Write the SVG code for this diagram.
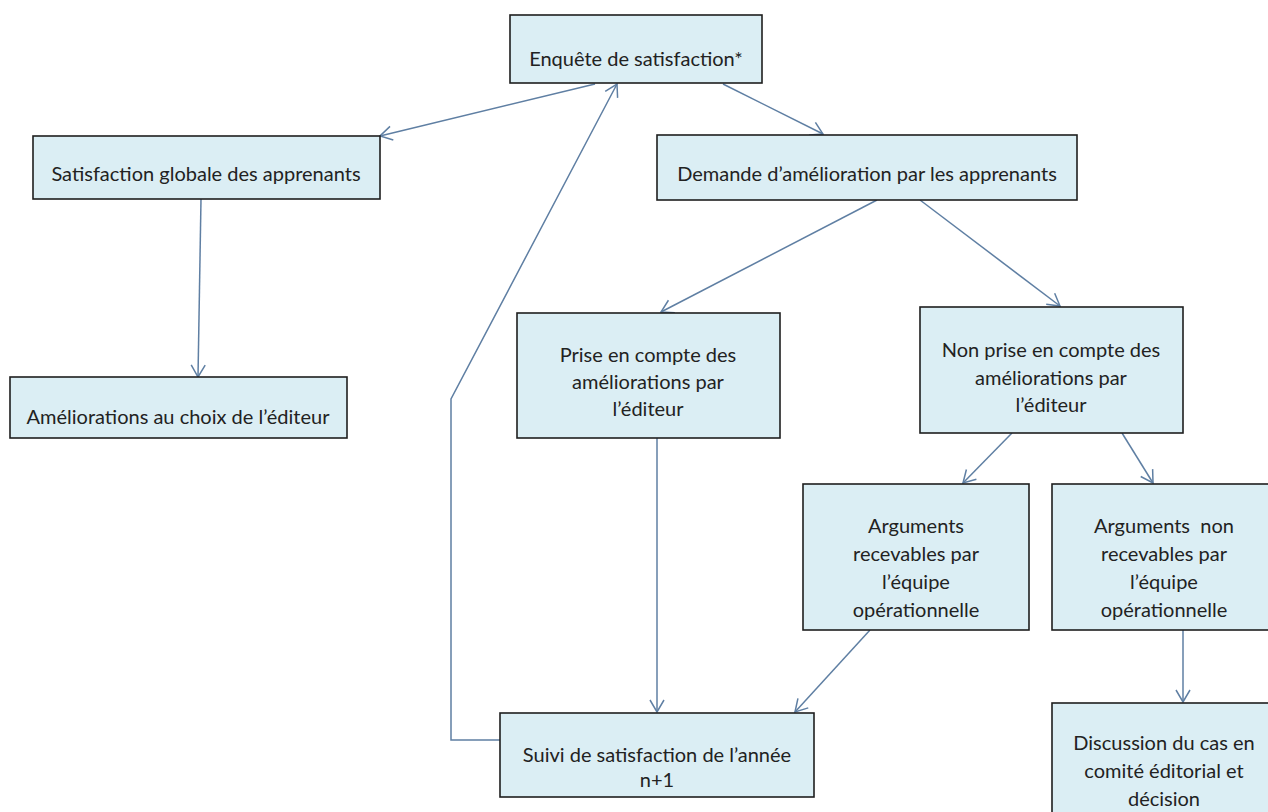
<svg xmlns="http://www.w3.org/2000/svg" width="1268" height="812" viewBox="0 0 1268 812">
<defs>
<marker id="arr" markerUnits="userSpaceOnUse" markerWidth="20" markerHeight="20" viewBox="-14 -10 16 20" refX="0" refY="0" orient="auto">
<path d="M -12 -7 L 0 0 L -12 7" fill="none" stroke="#5f7fa3" stroke-width="1.5"/>
</marker>
<style>
.box{fill:#dbeef4;stroke:#1e1e1e;stroke-width:1.6}
.t{font-family:Lato,"Open Sans","Liberation Sans",sans-serif;font-size:20px;fill:#222;text-anchor:middle}
.c{fill:none;stroke:#5f7fa3;stroke-width:1.5;marker-end:url(#arr)}
</style>
</defs>
<rect width="1268" height="812" fill="#ffffff"/>
<g id="connectors">
<line class="c" x1="595" y1="84" x2="380" y2="136"/>
<line class="c" x1="723" y1="84" x2="823" y2="134"/>
<line class="c" x1="201" y1="199" x2="198" y2="377"/>
<line class="c" x1="877" y1="200" x2="661" y2="312"/>
<line class="c" x1="920" y1="200" x2="1060" y2="306"/>
<line class="c" x1="657" y1="438" x2="657" y2="712"/>
<line class="c" x1="1012" y1="433" x2="963" y2="483"/>
<line class="c" x1="1122" y1="433" x2="1153" y2="483"/>
<line class="c" x1="870" y1="630" x2="795" y2="712"/>
<line class="c" x1="1183" y1="630" x2="1183" y2="702"/>
<polyline class="c" points="500,740 451,740 451,399 617,84"/>
</g>
<g id="n-enquete">
<rect class="box" x="510" y="15" width="252" height="68"/>
<text class="t" x="636" y="66">Enquête de satisfaction*</text>
</g>
<g id="n-satisfaction">
<rect class="box" x="33" y="136" width="347" height="63"/>
<text class="t" x="206" y="181">Satisfaction globale des apprenants</text>
</g>
<g id="n-ameliorations">
<rect class="box" x="10" y="377" width="337" height="61"/>
<text class="t" x="178" y="424">Améliorations au choix de l’éditeur</text>
</g>
<g id="n-demande">
<rect class="box" x="657" y="135" width="420" height="65"/>
<text class="t" x="867" y="181">Demande d’amélioration par les apprenants</text>
</g>
<g id="n-prise">
<rect class="box" x="517" y="313" width="263" height="125"/>
<text class="t" x="648" y="362">Prise en compte des</text>
<text class="t" x="648" y="389">améliorations par</text>
<text class="t" x="648" y="416">l’éditeur</text>
</g>
<g id="n-nonprise">
<rect class="box" x="920" y="307" width="263" height="126"/>
<text class="t" x="1051" y="357">Non prise en compte des</text>
<text class="t" x="1051" y="385">améliorations par</text>
<text class="t" x="1051" y="412">l’éditeur</text>
</g>
<g id="n-recevables">
<rect class="box" x="803" y="484" width="226" height="146"/>
<text class="t" x="916" y="533">Arguments</text>
<text class="t" x="916" y="561">recevables par</text>
<text class="t" x="916" y="589">l’équipe</text>
<text class="t" x="916" y="617">opérationnelle</text>
</g>
<g id="n-nonrecevables">
<rect class="box" x="1052" y="484" width="226" height="146"/>
<text class="t" x="1164" y="533" xml:space="preserve">Arguments  non</text>
<text class="t" x="1164" y="561">recevables par</text>
<text class="t" x="1164" y="589">l’équipe</text>
<text class="t" x="1164" y="617">opérationnelle</text>
</g>
<g id="n-discussion">
<rect class="box" x="1052" y="703" width="226" height="120"/>
<text class="t" x="1164" y="750">Discussion du cas en</text>
<text class="t" x="1164" y="778">comité éditorial et</text>
<text class="t" x="1164" y="806">décision</text>
</g>
<g id="n-suivi">
<rect class="box" x="500" y="713" width="314" height="84"/>
<text class="t" x="657" y="762">Suivi de satisfaction de l’année</text>
<text class="t" x="657" y="787">n+1</text>
</g>
</svg>
